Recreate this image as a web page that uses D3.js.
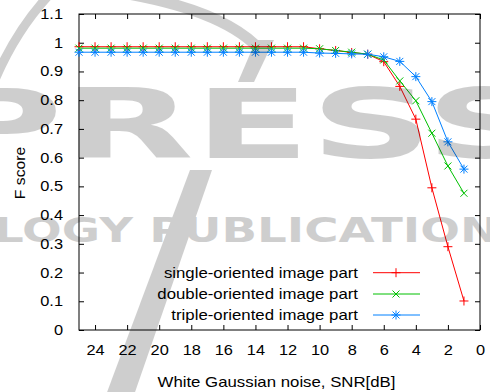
<!DOCTYPE html>
<html>
<head>
<meta charset="utf-8">
<script src="https://cdn.jsdelivr.net/npm/d3@7"></script>
<style>
  body { margin: 0; background: #fff; }
  svg { display: block; }
  text { font-family: "Liberation Sans", Arial, sans-serif; fill: #000; }
</style>
</head>
<body>
<svg id="chart" width="490" height="392"></svg>
<script>
// SNR levels (dB), measured from 25 down to 1
const snr = [25, 24, 23, 22, 21, 20, 19, 18, 17, 16, 15, 14, 13, 12, 11, 10, 9, 8, 7, 6, 5, 4, 3, 2, 1];

// F score per SNR level for each image-part type
const singleOriented = [0.986, 0.986, 0.986, 0.986, 0.986, 0.986, 0.986, 0.986, 0.986, 0.986, 0.986, 0.986, 0.986, 0.986, 0.986,
                        0.979, 0.973, 0.966, 0.960, 0.934, 0.848, 0.734, 0.495, 0.290, 0.101];
const doubleOriented = [0.981, 0.981, 0.981, 0.981, 0.981, 0.981, 0.981, 0.981, 0.981, 0.981, 0.981, 0.981, 0.981, 0.981, 0.981,
                        0.979, 0.973, 0.967, 0.960, 0.940, 0.867, 0.798, 0.685, 0.571, 0.476];
const tripleOriented = [0.967, 0.967, 0.967, 0.967, 0.967, 0.967, 0.967, 0.967, 0.967, 0.967, 0.967, 0.967, 0.967, 0.967, 0.967,
                        0.964, 0.963, 0.961, 0.960, 0.951, 0.935, 0.882, 0.795, 0.655, 0.560];

const seriesNames = ["single-oriented image part", "double-oriented image part", "triple-oriented image part"];
const seriesColors = ["#ff0000", "#00c000", "#0080ff"];
const seriesMarkers = ["plus", "cross", "star"];

const xTickValues = [24, 22, 20, 18, 16, 14, 12, 10, 8, 6, 4, 2, 0];
const yTickValues = [0, 0.1, 0.2, 0.3, 0.4, 0.5, 0.6, 0.7, 0.8, 0.9, 1, 1.1];
const yTickLabels = ["0", "0.1", "0.2", "0.3", "0.4", "0.5", "0.6", "0.7", "0.8", "0.9", "1", "1.1"];

const xTitle = "White Gaussian noise, SNR[dB]";
const yTitle = "F score";

const svg = d3.select("#chart");
const plot = { left: 79, right: 480, top: 14, bottom: 330 };
const stretch = 1.17;

const x = d3.scaleLinear().domain([25, 0]).range([plot.left, plot.right]);
const y = d3.scaleLinear().domain([0, 1.1]).range([plot.bottom, plot.top]);

// axes with inward ticks
const gx = svg.append("g").attr("transform", `translate(0,${plot.bottom})`)
  .call(d3.axisBottom(x).tickValues(xTickValues).tickSize(-5).tickPadding(15).tickFormat(d3.format("d")));
const gy = svg.append("g").attr("transform", `translate(${plot.left},0)`)
  .call(d3.axisLeft(y).tickValues(yTickValues).tickSize(-5).tickPadding(16)
    .tickFormat((d, i) => yTickLabels[i]));
const gxTop = svg.append("g").attr("transform", `translate(0,${plot.top})`)
  .call(d3.axisTop(x).tickValues(xTickValues).tickSize(-5).tickFormat(""));
const gyRight = svg.append("g").attr("transform", `translate(${plot.right},0)`)
  .call(d3.axisRight(y).tickValues(yTickValues).tickSize(-5).tickFormat(""));

[gx, gy, gxTop, gyRight].forEach(g => {
  g.select(".domain").remove();
  g.selectAll(".tick line").attr("stroke", "#000").attr("stroke-width", 1);
  g.selectAll("text").attr("font-size", 14).style("font-family", '"Liberation Sans", Arial, sans-serif').attr("fill", "#000");
});
gx.selectAll(".tick text").attr("transform", `scale(${stretch},1)`);
gy.selectAll(".tick text").attr("x", -16 / stretch).attr("transform", `scale(${stretch},1)`);

// plot frame
svg.append("rect")
  .attr("x", plot.left).attr("y", plot.top)
  .attr("width", plot.right - plot.left).attr("height", plot.bottom - plot.top)
  .attr("fill", "none").attr("stroke", "#000").attr("stroke-width", 1);

// axis titles
svg.append("text")
  .attr("transform", `translate(276.5,387) scale(1.2,1)`)
  .attr("text-anchor", "middle").attr("font-size", 14).text(xTitle);
svg.append("text")
  .attr("transform", `translate(25,173) rotate(-90) scale(1.12,1)`)
  .attr("text-anchor", "middle").attr("font-size", 14).text(yTitle);

function markerPath(type, cx, cy) {
  const p = d3.path();
  const a = 4.5, b = 3.5;
  if (type === "plus" || type === "star") {
    p.moveTo(cx - a, cy); p.lineTo(cx + a, cy);
    p.moveTo(cx, cy - a); p.lineTo(cx, cy + a);
  }
  if (type === "cross" || type === "star") {
    p.moveTo(cx - b, cy - b); p.lineTo(cx + b, cy + b);
    p.moveTo(cx - b, cy + b); p.lineTo(cx + b, cy - b);
  }
  return p.toString();
}

const series = [singleOriented, doubleOriented, tripleOriented];
const line = d3.line().x((d, i) => x(snr[i])).y(d => y(d));

series.forEach((vals, s) => {
  const g = svg.append("g");
  g.append("path").attr("d", line(vals))
    .attr("fill", "none").attr("stroke", seriesColors[s]).attr("stroke-width", 1);
  g.selectAll("path.m").data(vals).enter().append("path").attr("class", "m")
    .attr("d", (d, i) => markerPath(seriesMarkers[s], x(snr[i]), y(d)))
    .attr("fill", "none").attr("stroke", seriesColors[s]).attr("stroke-width", 1);
});

// legend
const legendRows = [272.7, 294, 315];
seriesNames.forEach((name, s) => {
  const ly = legendRows[s];
  svg.append("text")
    .attr("transform", `translate(358,${ly + 5}) scale(1.2,1)`)
    .attr("text-anchor", "end").attr("font-size", 14).text(name);
  svg.append("line").attr("x1", 373).attr("x2", 420).attr("y1", ly).attr("y2", ly)
    .attr("stroke", seriesColors[s]).attr("stroke-width", 1);
  svg.append("path").attr("d", markerPath(seriesMarkers[s], 396, ly))
    .attr("fill", "none").attr("stroke", seriesColors[s]).attr("stroke-width", 1);
});

// publisher watermark laid over the page
const wm = svg.append("g").attr("opacity", 0.19);
wm.append("text")
  .attr("x", -62).attr("y", 158)
  .attr("textLength", 610).attr("lengthAdjust", "spacingAndGlyphs")
  .style("font-family", '"DejaVu Sans", sans-serif').attr("font-weight", "bold")
  .attr("font-size", 96).text("PRESS");
wm.append("text")
  .attr("x", -6).attr("y", 242)
  .attr("textLength", 505).attr("lengthAdjust", "spacingAndGlyphs")
  .style("font-family", '"DejaVu Sans", sans-serif').attr("font-weight", "bold")
  .attr("font-size", 33).text("LOGY PUBLICATION");
wm.append("path").attr("d", "M -6 82 Q 16 30 50 -6")
  .attr("fill", "none").attr("stroke", "#000").attr("stroke-width", 9);
wm.append("path").attr("d", "M 128 -6 Q 228 12 262 52")
  .attr("fill", "none").attr("stroke", "#000").attr("stroke-width", 11);
wm.append("path").attr("d", "M 256 40 L 274 40 L 254 82 L 238 82 Z").attr("fill", "#000");
wm.append("path").attr("d", "M 190 170 L 212 170 L 134 395 L 106 395 Z").attr("fill", "#000");
</script>
</body>
</html>
